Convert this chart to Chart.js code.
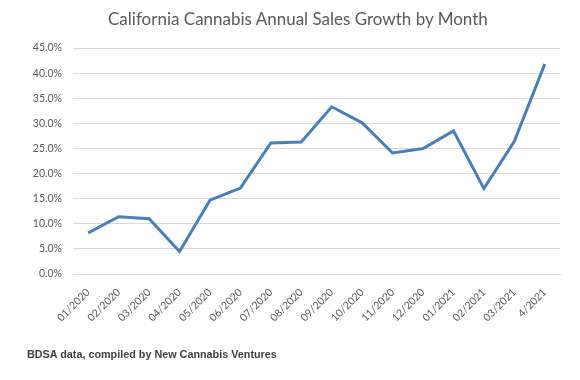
<!DOCTYPE html>
<html>
<head>
<meta charset="utf-8">
<script src="https://cdn.jsdelivr.net/npm/chart.js@4/dist/chart.umd.min.js"></script>
<style>
  html, body { margin: 0; padding: 0; background: #fff; }
  #wrap { position: relative; width: 580px; height: 380px; overflow: hidden; }
  #title { position: absolute; left: 108px; top: 9px; font: 17px Lato, "Open Sans", sans-serif; color: #595959; white-space: nowrap; line-height: 20px; }
  #footer { position: absolute; left: 27px; top: 348px; font: bold 10.8px "Liberation Sans", Arial, sans-serif; color: #404040; white-space: nowrap; }
</style>
</head>
<body>
<div id="wrap">
  <canvas id="c" width="580" height="380"></canvas>
  <div id="title"></div>
  <div id="footer">BDSA data, compiled by New Cannabis Ventures</div>
</div>
<script>
const titleText = "California Cannabis Annual Sales Growth by Month";
const months = ["01/2020","02/2020","03/2020","04/2020","05/2020","06/2020","07/2020","08/2020","09/2020","10/2020","11/2020","12/2020","01/2021","02/2021","03/2021","4/2021"];
const growth = [8.2, 11.4, 11.0, 4.5, 14.7, 17.1, 26.1, 26.3, 33.3, 30.1, 24.1, 25.0, 28.5, 17.0, 26.4, 41.8];
const yMin = 0, yMax = 45, yStep = 5;

document.getElementById('title').textContent = titleText;

const tickFont = { family: "Lato, 'Open Sans', sans-serif", size: 10.5 };

new Chart(document.getElementById('c'), {
  type: 'line',
  data: {
    labels: months,
    datasets: [{
      data: growth,
      borderColor: '#4a7ebb',
      borderWidth: 3,
      pointRadius: 0,
      tension: 0,
      fill: false
    }]
  },
  options: {
    responsive: false,
    animation: false,
    layout: { padding: { left: 0, right: 20, top: 48, bottom: 32 } },
    plugins: {
      legend: { display: false },
      tooltip: { enabled: false },
      title: { display: false }
    },
    scales: {
      x: {
        offset: true,
        grid: { display: false },
        border: { display: true, color: '#d9d9d9' },
        ticks: {
          color: '#595959', font: tickFont,
          autoSkip: false, minRotation: 45, maxRotation: 45, padding: 4
        },
        afterFit: (s) => { s.height = 74; }
      },
      y: {
        min: yMin, max: yMax,
        grid: { color: '#d9d9d9', drawTicks: false },
        border: { display: false },
        ticks: {
          stepSize: yStep, color: '#595959', font: tickFont, padding: 11,
          callback: (v) => v.toFixed(1) + '%'
        },
        afterFit: (s) => { s.width = 73; }
      }
    }
  }
});
</script>
</body>
</html>
